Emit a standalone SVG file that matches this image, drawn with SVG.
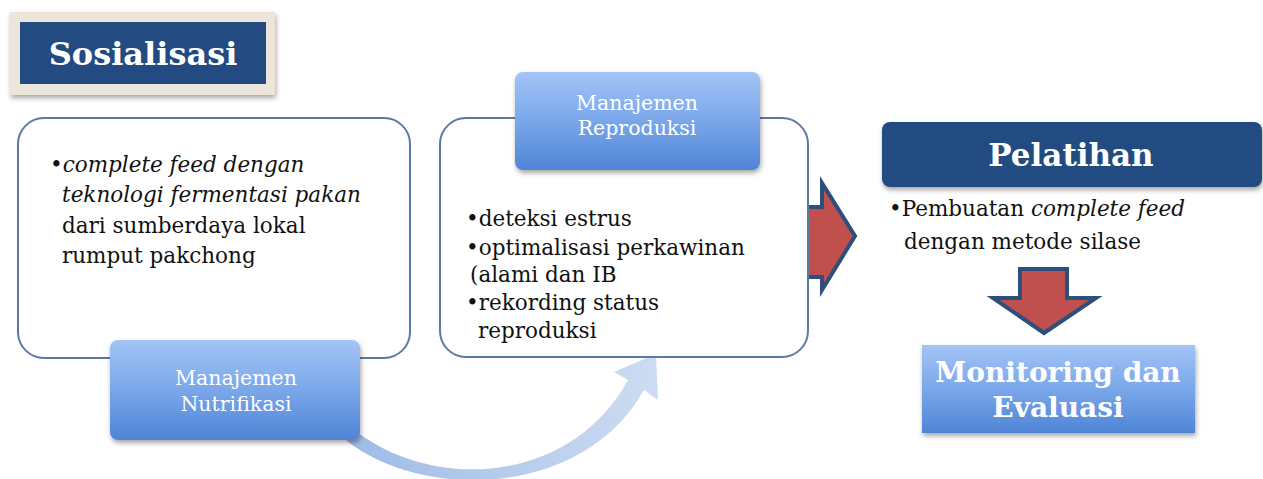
<svg xmlns="http://www.w3.org/2000/svg" width="1263" height="479" viewBox="0 0 1263 479">
<defs>
<linearGradient id="gBlue" x1="0" y1="0" x2="0" y2="1">
<stop offset="0" stop-color="#a3c4f5"/>
<stop offset="0.5" stop-color="#7aa7ea"/>
<stop offset="1" stop-color="#4f84d6"/>
</linearGradient>
<linearGradient id="gCurve" x1="0" y1="0" x2="1" y2="0">
<stop offset="0" stop-color="#9ebbe6"/>
<stop offset="1" stop-color="#cddcf2"/>
</linearGradient>
<filter id="sh" x="-10%" y="-10%" width="125%" height="135%">
<feDropShadow dx="1" dy="3" stdDeviation="2.5" flood-color="#000" flood-opacity="0.35"/>
</filter>
</defs>
<style>
.serif{font-family:"DejaVu Serif","Liberation Serif",serif;}
.body{font-size:21.5px;fill:#111;}
.lbl{font-size:20.5px;fill:#fff;text-anchor:middle;}
.frame{fill:#fff;stroke:#5b7aa3;stroke-width:2;}
.dark{fill:#234b82;}
.red{fill:#c0504d;stroke:#2c4f7c;stroke-width:4;stroke-linejoin:miter;}
</style>
<rect width="1263" height="479" fill="#fff"/>

<g id="sosialisasi">
<rect x="10" y="12" width="265" height="83" fill="#ece5da" filter="url(#sh)"/>
<rect x="20" y="22" width="246" height="62" class="dark"/>
<text x="143" y="65" class="serif" font-size="32" font-weight="bold" fill="#fff" text-anchor="middle">Sosialisasi</text>
</g>

<g id="connectors">
<path d="M352 428 C430 492 570 486 628 380 L614 372 L656 354 L658 400 L644 390 C582 500 420 500 346 440 Z" fill="url(#gCurve)"/>
<path d="M793 207 L822 207 L822 183 L855 236 L822 290 L822 277 L793 277 Z" class="red"/>
<path d="M1020 269 L1067 269 L1067 298 L1096 298 L1044 333 L993 298 L1020 298 Z" class="red"/>
</g>

<g id="nutrisi-box">
<rect x="18" y="118" width="392" height="240" rx="26" class="frame"/>
<g class="serif body">
<text x="50" y="172">•<tspan font-style="italic">complete feed dengan</tspan></text>
<text x="62" y="202" font-style="italic">teknologi fermentasi pakan</text>
<text x="62" y="233">dari sumberdaya lokal</text>
<text x="62" y="263">rumput pakchong</text>
</g>
</g>

<g id="manajemen-nutrifikasi">
<rect x="110" y="340" width="250" height="100" rx="8" fill="url(#gBlue)" filter="url(#sh)"/>
<text x="236" y="385" class="serif lbl">Manajemen</text>
<text x="236" y="411" class="serif lbl">Nutrifikasi</text>
</g>

<g id="reproduksi-box">
<rect x="440" y="118" width="368" height="239" rx="26" class="frame"/>
<g class="serif body">
<text x="466" y="226">•deteksi estrus</text>
<text x="466" y="255">•optimalisasi perkawinan</text>
<text x="470" y="282">(alami dan IB</text>
<text x="466" y="310">•rekording status</text>
<text x="478" y="338">reproduksi</text>
</g>
</g>

<g id="manajemen-reproduksi">
<rect x="515" y="72" width="245" height="98" rx="8" fill="url(#gBlue)" filter="url(#sh)"/>
<text x="637" y="110" class="serif lbl">Manajemen</text>
<text x="637" y="135" class="serif lbl">Reproduksi</text>
</g>

<g id="pelatihan">
<rect x="882" y="122" width="380" height="65" rx="8" class="dark" filter="url(#sh)"/>
<text x="1071" y="166" class="serif" font-size="31" font-weight="bold" fill="#fff" text-anchor="middle">Pelatihan</text>
<g class="serif body">
<text x="889" y="216">•Pembuatan <tspan font-style="italic">complete feed</tspan></text>
<text x="904" y="249">dengan metode silase</text>
</g>
</g>

<g id="monitoring">
<rect x="922" y="345" width="273" height="88" fill="url(#gBlue)" filter="url(#sh)"/>
<text x="1058" y="382" class="serif" font-size="28" font-weight="bold" fill="#fff" text-anchor="middle">Monitoring dan</text>
<text x="1058" y="417" class="serif" font-size="28" font-weight="bold" fill="#fff" text-anchor="middle">Evaluasi</text>
</g>
</svg>
